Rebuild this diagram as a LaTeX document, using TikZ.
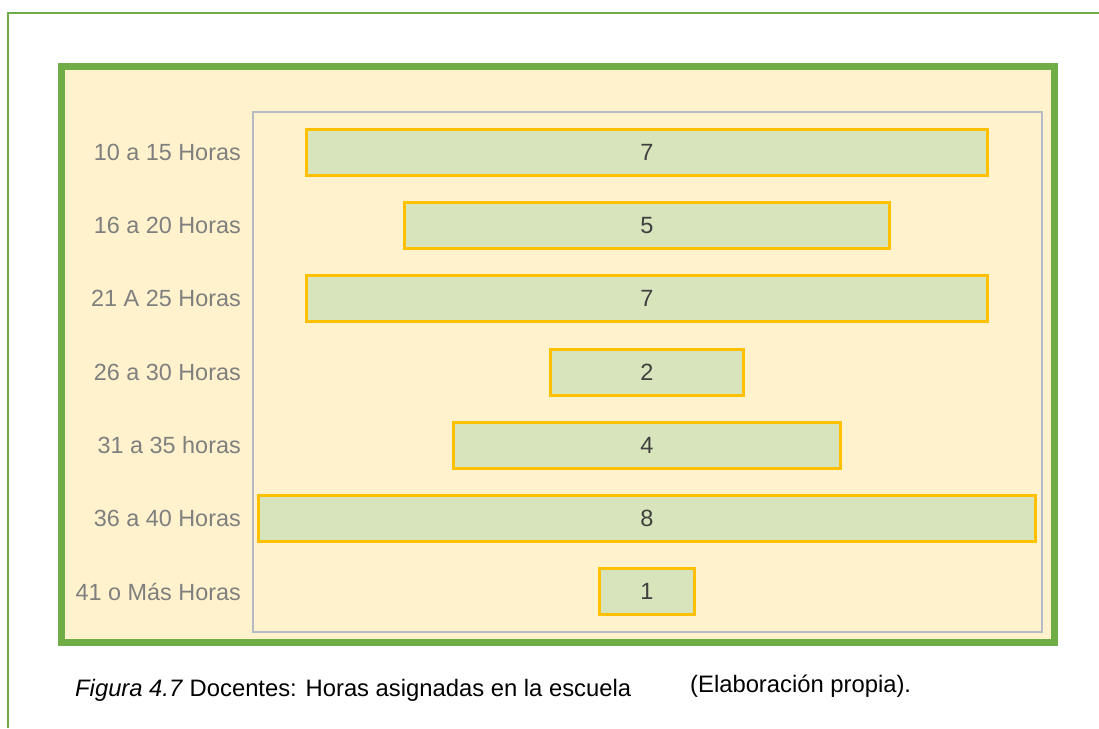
\documentclass[tikz,border=0pt]{standalone}
\usepackage{fontspec}
\setmainfont{Liberation Sans}
\definecolor{frgreen}{HTML}{70AD47}
\definecolor{panelfill}{HTML}{FFF2CC}
\definecolor{plotline}{HTML}{B4BAC6}
\definecolor{bargold}{HTML}{FFC000}
\definecolor{barfill}{HTML}{D8E4BC}
\definecolor{numgray}{HTML}{404040}
\definecolor{lblgray}{HTML}{7F7F7F}
\begin{document}
\begin{tikzpicture}[x=1pt,y=-1pt,
  bar/.style={draw=bargold, line width=3pt, fill=barfill, minimum height=46pt,
    inner sep=0pt, text=numgray, font=\fontsize{23.5}{28}\selectfont},
  lbl/.style={anchor=east, text=lblgray, inner sep=0pt, font=\fontsize{23.4}{28}\selectfont},
  captxt/.style={anchor=base west, inner sep=0pt, text=black, font=\fontsize{23.8}{28}\selectfont}]
\useasboundingbox (0,0) rectangle (1099,728);
% outer (cropped) frame
\coordinate (oa) at (8,728);
\coordinate (ob) at (8,13);
\coordinate (oc) at (1099,13);
\draw[frgreen, line width=2.8pt] (oa) -- (ob) -- (oc);
% panel
\draw[frgreen, fill=panelfill, line width=7pt] (61.5,66.5) rectangle (1054.5,642.5);
% plot area
\draw[plotline, line width=1.8pt] (252.7,111.7) rectangle (1041.7,631.7);
% bars
\def\unit{97.6}
\node[bar, minimum width=7*\unit pt-3pt] (b1) at (647,152.5) {7};
\node[bar, minimum width=5*\unit pt-3pt] (b2) at (647,225.5) {5};
\node[bar, minimum width=7*\unit pt-3pt] (b3) at (647,298.5) {7};
\node[bar, minimum width=2*\unit pt-3pt] (b4) at (647,372.5) {2};
\node[bar, minimum width=4*\unit pt-3pt] (b5) at (647,445.5) {4};
\node[bar, minimum width=8*\unit pt-3pt] (b6) at (647,518.5) {8};
\node[bar, minimum width=1*\unit pt-3pt] (b7) at (647,591.5) {1};
% labels
\node[lbl] (l1) at (241,152.5) {10 a 15 Horas};
\node[lbl] (l2) at (241,225.5) {16 a 20 Horas};
\node[lbl] (l3) at (241,298.5) {21 A 25 Horas};
\node[lbl] (l4) at (241,372.5) {26 a 30 Horas};
\node[lbl] (l5) at (241,445.5) {31 a 35 horas};
\node[lbl] (l6) at (241,518.5) {36 a 40 Horas};
\node[lbl] (l7) at (241,591.5) {41 o Más Horas};
% caption
\node[captxt] (c1) at (75,696) {\textit{Figura 4.7} Docentes: Horas asignadas en la escuela};
\node[captxt] (c2) at (690,692) {(Elaboración propia).};
\end{tikzpicture}
\end{document}
